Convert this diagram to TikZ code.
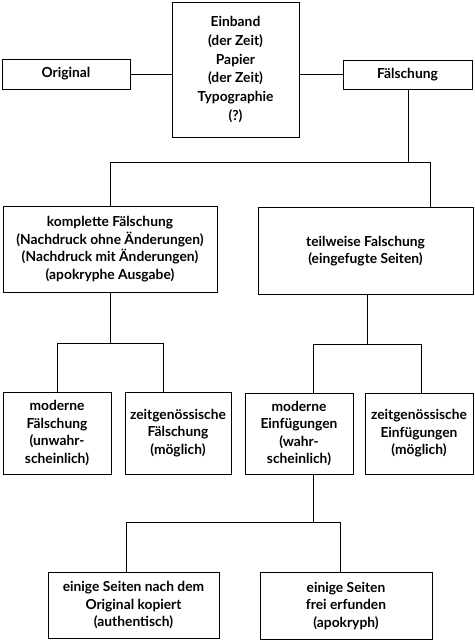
\documentclass[tikz,border=0pt]{standalone}
\usepackage{fontspec}
\setmainfont{Lato}
\usetikzlibrary{calc}
\tikzset{
  box/.style={draw, line width=0.8pt, align=center, inner sep=0pt, font=\fontsize{13.8}{17.5}\selectfont\bfseries},
  conn/.style={line width=0.8pt}
}
\begin{document}
\begin{tikzpicture}[x=1pt,y=-1pt]
\useasboundingbox (0,0) rectangle (474,642);
\node[box, minimum width=128, minimum height=30] (orig) at (66,74) {Original};
\node[box, minimum width=127, minimum height=135, font=\fontsize{13.8}{18.7}\selectfont\bfseries] (cent) at (235.5,69.5) {Einband\\(der Zeit)\\Papier\\(der Zeit)\\Typographie\\(?)};
\node[box, minimum width=129, minimum height=29] (fals) at (407.5,74.5) {Fälschung};
\node[box, minimum width=214, minimum height=86] (komp) at (110,249) {komplette Fälschung\\(Nachdruck ohne Änderungen)\\(Nachdruck mit Änderungen)\\(apokryphe Ausgabe)};
\node[box, minimum width=215, minimum height=87] (teil) at (365.5,251) {teilweise Falschung\\(eingefugte Seiten)};
\node[box, minimum width=108, minimum height=82] (mf) at (57,433) {moderne\\Fälschung\\(unwahr-\\scheinlich)};
\node[box, minimum width=106, minimum height=82] (zf) at (178,433) {zeitgenössische\\Fälschung\\(möglich)};
\node[box, minimum width=108, minimum height=81] (me) at (299,433.5) {moderne\\Einfügungen\\(wahr-\\scheinlich)};
\node[box, minimum width=108, minimum height=81] (ze) at (419,433.5) {zeitgenössische\\Einfügungen\\(möglich)};
\node[box, minimum width=171, minimum height=66] (s1) at (133.5,605) {einige Seiten nach dem\\Original kopiert\\(authentisch)};
\node[box, minimum width=172, minimum height=67] (s2) at (346,606) {einige Seiten\\frei erfunden\\(apokryph)};
% top row connectors
\draw[conn] (orig.east) -- (orig.east -| cent.west);
\draw[conn] (fals.west) -- (fals.west -| cent.east);
% level 1
\coordinate (j1) at (408,162);
\coordinate (t1) at (430,162);
\draw[conn] (fals.south -| j1) -- (j1);
\draw[conn] (komp.north) |- (t1) -- (t1 |- teil.north);
% level 2 left
\coordinate (j2) at (110,343);
\coordinate (a2) at (57,343);
\coordinate (b2) at (163,343);
\draw[conn] (komp.south) -- (j2);
\draw[conn] (a2) -- (b2);
\draw[conn] (a2) -- (a2 |- mf.north);
\draw[conn] (b2) -- (b2 |- zf.north);
% level 2 right
\coordinate (j3) at (367,344);
\coordinate (a3) at (313,344);
\coordinate (b3) at (421,344);
\draw[conn] (j3 |- teil.south) -- (j3);
\draw[conn] (a3) -- (b3);
\draw[conn] (a3) -- (a3 |- me.north);
\draw[conn] (b3) -- (b3 |- ze.north);
% level 3
\coordinate (j4) at (313,522);
\coordinate (a4) at (126,522);
\coordinate (b4) at (340,522);
\draw[conn] (j4 |- me.south) -- (j4);
\draw[conn] (a4) -- (b4);
\draw[conn] (a4) -- (a4 |- s1.north);
\draw[conn] (b4) -- (b4 |- s2.north);
\end{tikzpicture}
\end{document}
